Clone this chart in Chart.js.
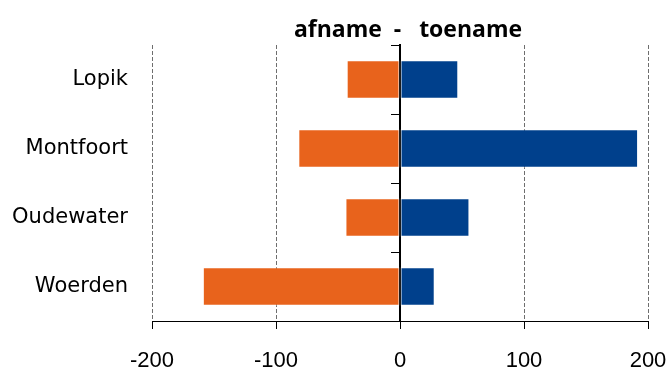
<!DOCTYPE html>
<html>
<head>
<meta charset="utf-8">
<script src="https://cdn.jsdelivr.net/npm/chart.js@4/dist/chart.umd.min.js"></script>
<style>
  html, body { margin: 0; padding: 0; background: #ffffff; }
  #wrap { width: 670px; height: 371px; position: relative; }
</style>
</head>
<body>
<div id="wrap"><canvas id="chart" width="670" height="371"></canvas></div>
<script>
// Gemeenten en de afname / toename per gemeente
const categories = ['Lopik', 'Montfoort', 'Oudewater', 'Woerden'];
const afname = [-43, -82, -44, -159];
const toename = [47, 192, 56, 28];
const xTicks = [-200, -100, 0, 100, 200];
const chartTitle = 'afname  -   toename';

const ORANGE = '#E8631C';
const BLUE = '#00408C';

// Title centred over the plot area
const titlePlugin = {
  id: 'plotTitle',
  afterDraw(chart) {
    const { ctx, chartArea } = chart;
    ctx.save();
    ctx.font = 'bold 23px "Open Sans"';
    ctx.fillStyle = '#000000';
    ctx.textAlign = 'center';
    ctx.textBaseline = 'alphabetic';
    ctx.fillText(chartTitle, (chartArea.left + chartArea.right) / 2 + 8, chartArea.top - 8);
    ctx.restore();
  }
};

new Chart(document.getElementById('chart'), {
  type: 'bar',
  data: {
    labels: categories,
    datasets: [
      {
        label: 'afname',
        data: afname,
        backgroundColor: ORANGE,
        borderColor: 'rgba(255,255,255,0.45)',
        borderWidth: 1,
        borderSkipped: false,
        categoryPercentage: 0.56,
        barPercentage: 1.0
      },
      {
        label: 'toename',
        data: toename,
        backgroundColor: BLUE,
        borderColor: 'rgba(255,255,255,0.45)',
        borderWidth: 1,
        borderSkipped: false,
        categoryPercentage: 0.56,
        barPercentage: 1.0
      }
    ]
  },
  options: {
    indexAxis: 'y',
    responsive: false,
    animation: false,
    layout: { padding: { top: 45, right: 22, bottom: 0, left: 0 } },
    plugins: {
      legend: { display: false },
      title: { display: false },
      tooltip: { enabled: false }
    },
    scales: {
      x: {
        type: 'linear',
        position: 'bottom',
        stacked: true,
        min: -200,
        max: 200,
        afterBuildTicks(scale) {
          scale.ticks = xTicks.map(v => ({ value: v }));
        },
        afterFit(scale) {
          scale.height = 50;
          // the outer labels may hang over the plot edges
          scale.paddingLeft = 0;
          scale.paddingRight = 0;
        },
        grid: {
          color: ctx => (ctx.tick && ctx.tick.value === 0) ? 'rgba(0,0,0,0)' : '#6e6e6e',
          lineWidth: 1,
          drawTicks: true,
          tickLength: 8,
          tickColor: '#000000',
          tickBorderDash: [],
          tickWidth: 1
        },
        border: { display: true, color: '#000000', width: 1, dash: [4, 2] },
        ticks: {
          color: '#000000',
          font: { family: '"Liberation Sans"', size: 22 },
          padding: 19,
          maxRotation: 0
        }
      },
      y: {
        type: 'category',
        position: 'left',
        stacked: true,
        afterFit(scale) { scale.width = 152; },
        grid: { display: false, drawTicks: false },
        border: { display: false },
        ticks: {
          color: '#000000',
          font: { family: '"DejaVu Sans"', size: 21 },
          padding: 24
        }
      },
      yZero: {
        type: 'category',
        labels: categories,
        position: { x: 0 },
        grid: {
          display: true,
          drawOnChartArea: false,
          offset: true,
          drawTicks: true,
          tickLength: 8,
          tickColor: '#000000',
          color: '#000000'
        },
        border: { display: true, color: '#000000', width: 2 },
        ticks: { display: false }
      }
    }
  },
  plugins: [titlePlugin]
});
</script>
</body>
</html>
